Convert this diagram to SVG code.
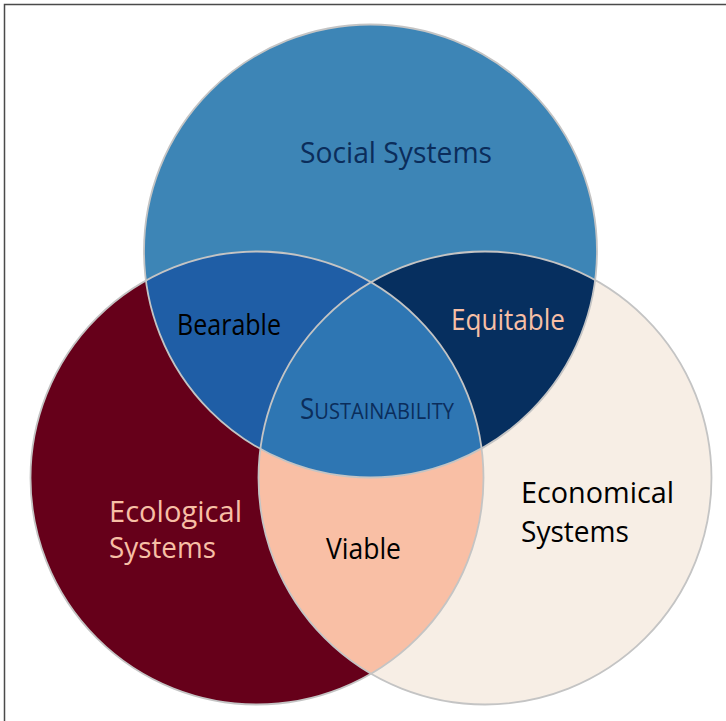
<svg xmlns="http://www.w3.org/2000/svg" width="726" height="721" viewBox="0 0 726 721">
<style>
.lbl{font-family:"Open Sans","Liberation Sans",sans-serif;font-size:28.5px}
.outline{fill:none;stroke:#c4c4c4;stroke-width:1.8}
</style>
<defs>
<circle id="cT" cx="370.5" cy="251" r="226.5"/>
<circle id="cL" cx="257" cy="478" r="226.5"/>
<circle id="cR" cx="485" cy="478" r="226.5"/>
<clipPath id="clipT"><use href="#cT"/></clipPath>
<clipPath id="clipL"><use href="#cL"/></clipPath>
<clipPath id="clipR"><use href="#cR"/></clipPath>
</defs>
<rect x="0" y="0" width="726" height="721" fill="#ffffff"/>
<rect x="4.5" y="4.5" width="740" height="740" fill="none" stroke="#4a4a4a" stroke-width="1.5"/>
<g id="ecological">
<use href="#cL" fill="#66001a"/>
</g>
<g id="economical">
<use href="#cR" fill="#f7eee5"/>
</g>
<g id="viable">
<g clip-path="url(#clipL)"><use href="#cR" fill="#f9bfa5"/></g>
</g>
<g id="social">
<use href="#cT" fill="#3d85b6"/>
</g>
<g id="bearable">
<g clip-path="url(#clipT)"><use href="#cL" fill="#1f5ea6"/></g>
</g>
<g id="equitable">
<g clip-path="url(#clipT)"><use href="#cR" fill="#062f5f"/></g>
</g>
<g id="sustainability">
<g clip-path="url(#clipT)"><g clip-path="url(#clipL)"><use href="#cR" fill="#2e76b3"/></g></g>
</g>
<g id="outlines">
<use href="#cT" class="outline"/>
<use href="#cL" class="outline"/>
<use href="#cR" class="outline"/>
</g>
<g id="labels">
<text class="lbl" x="300" y="163" textLength="192" lengthAdjust="spacingAndGlyphs" fill="#0b2d5b">Social Systems</text>
<text class="lbl" x="177" y="335" textLength="104" lengthAdjust="spacingAndGlyphs" fill="#000000">Bearable</text>
<text class="lbl" x="451" y="330" textLength="114" lengthAdjust="spacingAndGlyphs" fill="#f7bfa5">Equitable</text>
<text class="lbl" x="300" y="419" textLength="154" lengthAdjust="spacingAndGlyphs" fill="#0b2d5b">S<tspan font-size="22px">USTAINABILITY</tspan></text>
<text class="lbl" x="109" y="522" textLength="133" lengthAdjust="spacingAndGlyphs" fill="#f7bfa5">Ecological</text>
<text class="lbl" x="109" y="558" textLength="107" lengthAdjust="spacingAndGlyphs" fill="#f7bfa5">Systems</text>
<text class="lbl" x="326" y="559" textLength="75" lengthAdjust="spacingAndGlyphs" fill="#000000">Viable</text>
<text class="lbl" x="521" y="503" textLength="153" lengthAdjust="spacingAndGlyphs" fill="#000000">Economical</text>
<text class="lbl" x="521" y="542" textLength="108" lengthAdjust="spacingAndGlyphs" fill="#000000">Systems</text>
</g>
</svg>
